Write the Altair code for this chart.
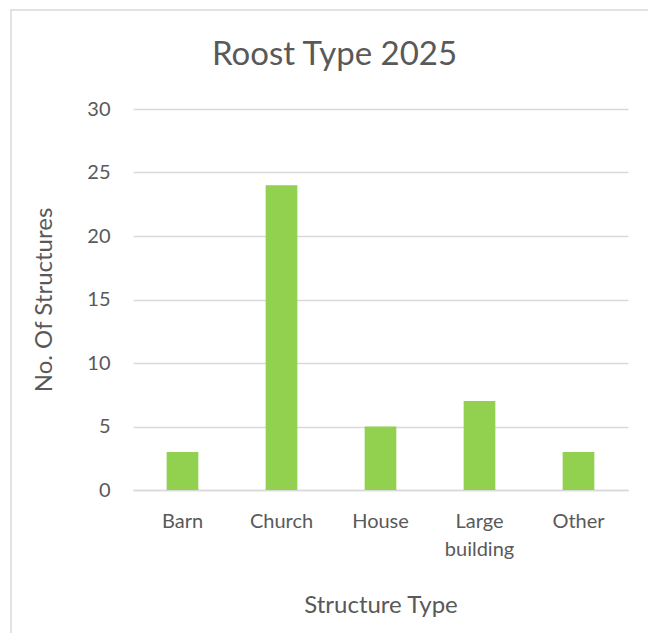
import altair as alt
import pandas as pd

categories = ["Barn", "Church", "House", "Large building", "Other"]
values = [3, 24, 5, 7, 3]

df = pd.DataFrame({"Structure": categories, "Count": values})

FONT = "Lato"
TXT = "#595959"
GRID = "#d9d9d9"

frame = alt.Chart(pd.DataFrame({"a": [0]})).mark_rect(
    fill=None, stroke=GRID, strokeWidth=1.5
).encode(
    x=alt.value(-122), x2=alt.value(540), y=alt.value(-99), y2=alt.value(560)
)

bars = alt.Chart(df).mark_bar(color="#92D050").encode(
    x=alt.X(
        "Structure:N",
        sort=categories,
        scale=alt.Scale(paddingInner=0.68, paddingOuter=0.34),
        axis=alt.Axis(
            title="Structure Type",
            labelAngle=0,
            labelExpr="datum.value == 'Large building' ? ['Large', 'building'] : datum.value",
            labelFont=FONT, labelFontSize=20, labelColor=TXT,
            labelPadding=21, labelLineHeight=28,
            titleFont=FONT, titleFontSize=24, titleColor=TXT, titleFontWeight="normal",
            titlePadding=34,
            ticks=False, domainColor=GRID, domainWidth=1.5,
        ),
    ),
    y=alt.Y(
        "Count:Q",
        scale=alt.Scale(domain=[0, 30]),
        axis=alt.Axis(
            title="No. Of Structures",
            values=[0, 5, 10, 15, 20, 25, 30],
            labelFont=FONT, labelFontSize=20, labelColor=TXT,
            labelPadding=23,
            titleFont=FONT, titleFontSize=24, titleColor=TXT, titleFontWeight="normal",
            titlePadding=30,
            ticks=False, domain=False, gridColor=GRID, gridWidth=1.5,
        ),
    ),
)

chart = alt.layer(frame, bars).properties(
    width=495,
    height=381,
    padding={"left": 133, "top": 109, "right": 20, "bottom": 143},
    autosize=alt.AutoSizeParams(type="none"),
    title=alt.TitleParams(
        "Roost Type 2025", font=FONT, fontSize=33, color=TXT, fontWeight="normal",
        anchor="middle", dx=-46, offset=-89, baseline="alphabetic",
    ),
).configure_view(stroke=None)

chart.save("out.html", embed_options={"renderer": "svg", "actions": False})
